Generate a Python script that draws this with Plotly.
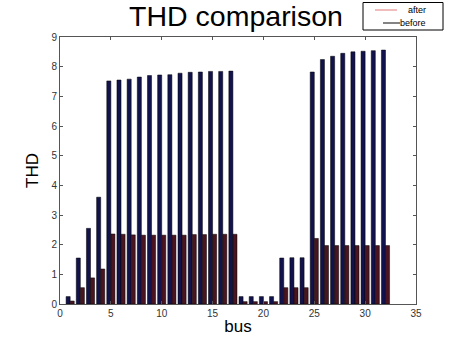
import plotly.graph_objects as go

bus = list(range(1, 33))
before = [0.25, 1.55, 2.55, 3.6, 7.52, 7.55, 7.58, 7.65, 7.70, 7.72, 7.73, 7.78,
          7.81, 7.82, 7.84, 7.84, 7.85, 0.25, 0.25, 0.25, 0.25, 1.55, 1.56, 1.56,
          7.82, 8.24, 8.35, 8.45, 8.50, 8.52, 8.54, 8.56]
after = [0.1, 0.55, 0.88, 1.18, 2.36, 2.35, 2.33, 2.32, 2.32, 2.32, 2.32, 2.32,
         2.34, 2.34, 2.35, 2.35, 2.35, 0.08, 0.08, 0.08, 0.08, 0.55, 0.55, 0.55,
         2.21, 1.97, 1.97, 1.97, 1.97, 1.97, 1.97, 1.97]
xticks = [0, 5, 10, 15, 20, 25, 30, 35]
yticks = [0, 1, 2, 3, 4, 5, 6, 7, 8, 9]
legend_names = ["after", "before"]
legend_colors = ["#e89090", "#333333"]

FONT = "Liberation Sans, Arial, sans-serif"

W, H = 460, 345
L, R, T, B = 60, 416, 37, 304


def px(x):
    return (x - L) / (R - L)


def py(y):
    return (B - y) / (B - T)


fig = go.Figure()
fig.add_trace(go.Bar(x=bus, y=before, name="before", showlegend=False,
                     marker=dict(color="#12124c", line=dict(color="#000000", width=0.5))))
fig.add_trace(go.Bar(x=bus, y=after, name="after", showlegend=False,
                     marker=dict(color="#4a1420", line=dict(color="#000000", width=0.5))))

axis_common = dict(showline=True, linecolor="#555555", linewidth=1, mirror="ticks",
                   ticks="inside", ticklen=3, tickcolor="#555555", showgrid=False,
                   zeroline=False, automargin=False,
                   tickfont=dict(family=FONT, size=10, color="#333333"))

shapes = [dict(type="rect", xref="paper", yref="paper",
               x0=px(363), x1=px(443), y0=py(30), y1=py(2.5),
               line=dict(color="#000000", width=1), fillcolor="white")]
annotations = []
line_spans = [(375, 397, 10), (383, 400, 23)]
for name, col, (x0, x1, yy) in zip(legend_names, legend_colors, line_spans):
    shapes.append(dict(type="line", xref="paper", yref="paper",
                       x0=px(x0), x1=px(x1), y0=py(yy), y1=py(yy),
                       line=dict(color=col, width=1.2)))
    annotations.append(dict(text=name, xref="paper", yref="paper",
                            x=px(428), y=py(yy), xanchor="right", yanchor="middle",
                            showarrow=False,
                            font=dict(family=FONT, size=9, color="#000000")))

fig.update_layout(
    width=W, height=H,
    margin=dict(l=L, r=W - R, t=T, b=H - B, pad=0),
    paper_bgcolor="white", plot_bgcolor="white",
    barmode="group", bargap=0.2, bargroupgap=0,
    showlegend=False,
    title=dict(text="THD comparison", x=236 / W, xanchor="center",
               y=1 - 16 / H, yanchor="middle", yref="container",
               font=dict(family=FONT, size=28.5, color="#000000")),
    xaxis=dict(range=[0, 35], tickvals=xticks, ticktext=[str(t) for t in xticks],
               title=dict(text="bus", font=dict(family=FONT, size=17, color="#000000"),
                          standoff=2),
               **axis_common),
    yaxis=dict(range=[0, 9], tickvals=yticks, ticktext=[str(t) for t in yticks],
               title=dict(text="THD", font=dict(family=FONT, size=17, color="#000000"),
                          standoff=8),
               **axis_common),
    shapes=shapes,
    annotations=annotations,
)

fig.write_html("out.html", config={"displayModeBar": False},
               post_script="document.body.style.margin='0';document.body.style.padding='0';")
